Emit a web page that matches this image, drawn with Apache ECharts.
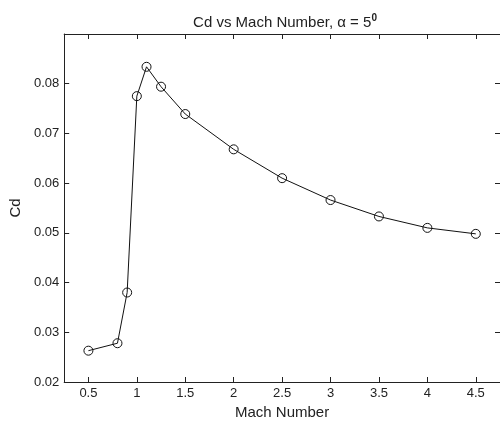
<!DOCTYPE html>
<html>
<head>
<meta charset="utf-8">
<script src="https://cdn.jsdelivr.net/npm/echarts@6/dist/echarts.min.js"></script>
<style>html,body{margin:0;padding:0;background:#fff}#c{width:500px;height:427px}</style>
</head>
<body>
<div id="c"></div>
<script>
const mach = [0.5, 0.8, 0.9, 1.0, 1.1, 1.25, 1.5, 2.0, 2.5, 3.0, 3.5, 4.0, 4.5];
const cd = [0.0263, 0.0278, 0.0380, 0.0775, 0.0834, 0.0794, 0.0739, 0.0668, 0.0610, 0.0566, 0.0533, 0.0510, 0.0498];
const xTicks = [0.5, 1, 1.5, 2, 2.5, 3, 3.5, 4, 4.5];

const font = 'Liberation Sans, Arial, sans-serif';
const axisColor = '#222';
const chart = echarts.init(document.getElementById('c'));
chart.setOption({
  animation: false,
  backgroundColor: '#fff',
  title: {
    text: '{a|Cd vs Mach Number, α = 5}{s|0}',
    left: 280, top: 8, textAlign: 'center',
    textStyle: {
      rich: {
        a: {fontFamily: font, fontSize: 15, color: '#222', fontWeight: 'normal'},
        s: {fontFamily: font, fontSize: 10, color: '#222', padding: [0, 0, 10, 0]}
      }
    }
  },
  grid: {left: 62, top: 34, right: -2, bottom: 45},
  xAxis: [{
    type: 'value', min: 0.25, max: 4.75,
    name: 'Mach Number', nameLocation: 'middle', nameGap: 23,
    nameTextStyle: {fontFamily: font, fontSize: 15, color: '#222'},
    axisLine: {onZero: false, lineStyle: {color: axisColor, width: 1}},
    axisTick: {inside: true, length: 5, customValues: xTicks, lineStyle: {color: axisColor}},
    axisLabel: {customValues: xTicks, fontFamily: font, fontSize: 13, color: '#222', margin: 5},
    splitLine: {show: false}
  }, {
    type: 'value', min: 0.25, max: 4.75, position: 'top',
    axisLine: {onZero: false, lineStyle: {color: axisColor, width: 1}},
    axisTick: {inside: true, length: 5, customValues: xTicks, lineStyle: {color: axisColor}},
    axisLabel: {show: false},
    splitLine: {show: false}
  }],
  yAxis: [{
    type: 'value', min: 0.02, max: 0.09, interval: 0.01,
    name: 'Cd', nameLocation: 'middle', nameGap: 40,
    nameTextStyle: {fontFamily: font, fontSize: 15, color: '#222'},
    axisLine: {show: true, onZero: false, lineStyle: {color: axisColor, width: 1}},
    axisTick: {show: true, inside: true, length: 5, lineStyle: {color: axisColor}},
    axisLabel: {showMaxLabel: false, fontFamily: font, fontSize: 13, color: '#222', margin: 5,
      formatter: v => v.toFixed(2)},
    splitLine: {show: false}
  }, {
    type: 'value', min: 0.02, max: 0.09, interval: 0.01, position: 'right',
    axisLine: {show: true, onZero: false, lineStyle: {color: axisColor, width: 1}},
    axisTick: {show: true, inside: true, length: 5, lineStyle: {color: axisColor}},
    axisLabel: {show: false},
    splitLine: {show: false}
  }],
  series: [{
    type: 'line',
    data: mach.map((m, i) => [m, cd[i]]),
    symbol: 'circle', symbolSize: 9, showAllSymbol: true,
    lineStyle: {color: '#111', width: 1},
    itemStyle: {color: 'rgba(255,255,255,0)', borderColor: '#111', borderWidth: 1}
  }]
});
</script>
</body>
</html>
